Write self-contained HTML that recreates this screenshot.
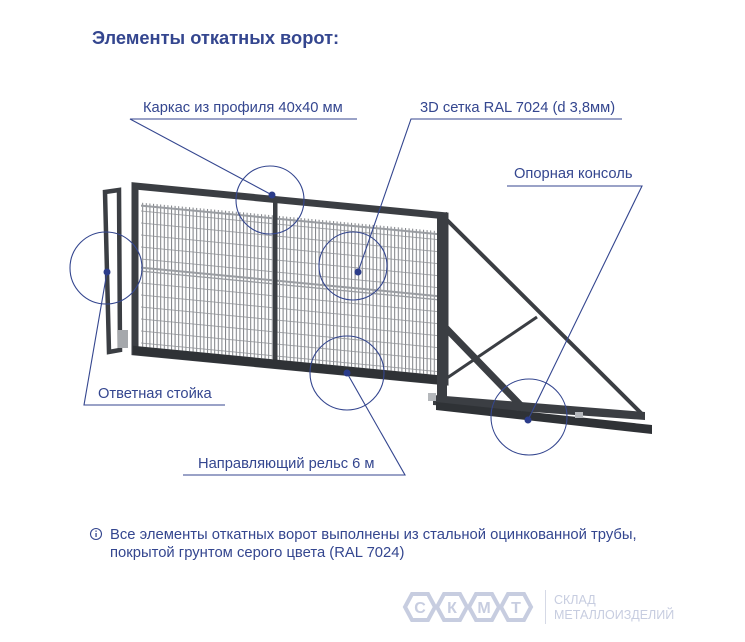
<!DOCTYPE html>
<html><head><meta charset="utf-8"><style>
html,body{margin:0;padding:0;background:#fff;}
svg{display:block;}
text{font-family:"Liberation Sans","DejaVu Sans",sans-serif;}
</style></head><body>
<svg width="745" height="642" viewBox="0 0 745 642" xmlns="http://www.w3.org/2000/svg">
<defs>
<pattern id="vm" width="3.6" height="12" patternUnits="userSpaceOnUse">
<rect x="0" y="0" width="1" height="12" fill="#7d8085"/>
<rect x="0" y="0" width="3.6" height="0.8" fill="#8f9297"/>
</pattern>
</defs>
<text x="92" y="44" font-size="18.3" font-weight="bold" fill="#34468f">Элементы откатных ворот:</text>

<g transform="translate(135,186) skewY(5.5)">
<rect x="6" y="16" width="298" height="144" fill="url(#vm)"/>
<rect x="6" y="80" width="298" height="2" fill="#9a9da2"/>
<rect x="6" y="84" width="298" height="1.2" fill="#9a9da2"/>
<rect x="6" y="18" width="298" height="2" fill="#9a9da2"/>
<rect x="0" y="0" width="310" height="166" fill="none" stroke="#3b3e43" stroke-width="7"/>
<rect x="138" y="0" width="4.5" height="166" fill="#3b3e43"/>
<rect x="-2" y="160" width="314" height="9" fill="#2f3236"/>
</g>
<polygon points="105,192 119,190 120,350 109,352" fill="none" stroke="#3b3e43" stroke-width="4.5"/>
<rect x="118" y="330" width="10" height="18" fill="#a5a8ac"/>

<polygon points="437,215 447,212 447,400 437,402" fill="#3b3e43"/>
<line x1="447" y1="220" x2="642" y2="414" stroke="#3b3e43" stroke-width="4"/>
<line x1="440" y1="322" x2="530" y2="415" stroke="#3b3e43" stroke-width="7"/>
<line x1="447" y1="378" x2="537" y2="317" stroke="#3b3e43" stroke-width="3"/>
<polygon points="433,395 645,412 645,420 433,405" fill="#3b3e43"/>
<polygon points="436,402 652,425 652,434 436,410" fill="#2f3236"/>
<rect x="428" y="393" width="8" height="8" fill="#b5b8bc"/>
<rect x="575" y="412" width="8" height="6" fill="#b5b8bc"/>

<g fill="none" stroke="#34468f" stroke-width="1.1">
<circle cx="270" cy="200" r="34"/>
<circle cx="353" cy="266" r="34"/>
<circle cx="106" cy="268" r="36"/>
<circle cx="347" cy="373" r="37"/>
<circle cx="529" cy="417" r="38"/>
<polyline points="357,119 130,119 272,195"/>
<polyline points="622,119 411,119 358,272"/>
<polyline points="225,405 84,405 107,272"/>
<polyline points="183,475 405,475 347,373"/>
<polyline points="507,186 642,186 528,420"/>
</g>
<g fill="#2b3c8a">
<circle cx="272" cy="195" r="3.5"/>
<circle cx="358" cy="272" r="3.5"/>
<circle cx="107" cy="272" r="3.5"/>
<circle cx="347" cy="373" r="3.5"/>
<circle cx="528" cy="420" r="3.5"/>
</g>
<g font-size="14.7" fill="#34468f">
<text x="143" y="112">Каркас из профиля 40x40 мм</text>
<text x="420" y="112">3D сетка RAL 7024 (d 3,8мм)</text>
<text x="514" y="178">Опорная консоль</text>
<text x="98" y="398">Ответная стойка</text>
<text x="198" y="468">Направляющий рельс 6 м</text>
</g>

<circle cx="96" cy="534" r="5.5" fill="none" stroke="#34468f" stroke-width="1.1"/>
<rect x="95.4" y="533" width="1.3" height="4" fill="#34468f"/>
<rect x="95.4" y="530.5" width="1.3" height="1.3" fill="#34468f"/>
<g font-size="14.8" fill="#34468f">
<text x="110" y="539">Все элементы откатных ворот выполнены из стальной оцинкованной трубы,</text>
<text x="110" y="557">покрытой грунтом серого цвета (RAL 7024)</text>
</g>

<g fill="none" stroke="#c7cde0" stroke-width="4">
<polygon points="405,607 412,594 428,594 435,607 428,620 412,620"/>
<polygon points="437,607 444,594 460,594 467,607 460,620 444,620"/>
<polygon points="469,607 476,594 492,594 499,607 492,620 476,620"/>
<polygon points="501,607 508,594 524,594 531,607 524,620 508,620"/>
</g>
<g font-size="16" font-weight="bold" fill="#c7cde0" text-anchor="middle">
<text x="420" y="613">С</text><text x="452" y="613">К</text><text x="484" y="613">М</text><text x="516" y="613">Т</text>
</g>
<rect x="545" y="590" width="1" height="34" fill="#d5d9e6"/>
<g font-size="12.5" fill="#c7cde0">
<text x="554" y="604">СКЛАД</text>
<text x="554" y="619">МЕТАЛЛОИЗДЕЛИЙ</text>
</g>
</svg>
</body></html>
